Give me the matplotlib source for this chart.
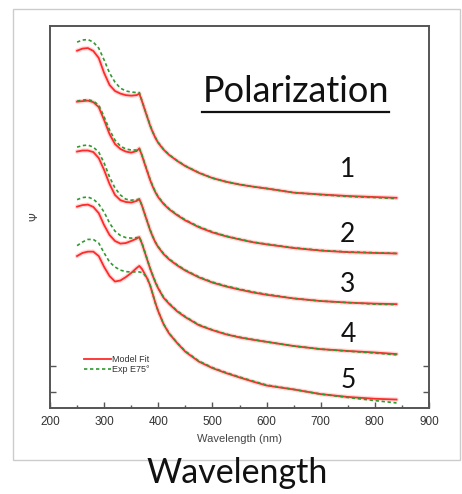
import matplotlib
matplotlib.use("Agg")
import matplotlib.pyplot as plt
from matplotlib.patches import Rectangle
from matplotlib.lines import Line2D

# wavelength grid (nm)
wl = [250, 260, 270, 280, 290, 300, 310, 320, 330, 340, 350, 360, 365,
      370, 375, 380, 385, 390, 395, 400, 410, 420, 435, 450, 475, 500,
      525, 550, 575, 600, 650, 700, 750, 800, 840]

# Psi, arbitrary units (offset per polarization curve)
fit1 = [131.3, 132.1, 132.3, 131.2, 128.5, 122.7, 118.1, 115.8, 114.8, 114.2, 114.0, 114.2, 114.8,
        111.8, 108.6, 105.5, 102.4, 99.8, 97.6, 95.8, 93.2, 91.2, 88.9, 86.9, 84.3, 82.3,
        80.9, 79.8, 79.0, 78.3, 76.7, 76.0, 75.4, 75.0, 74.7]
exp1 = [134.6, 135.4, 135.6, 134.6, 132.3, 127.7, 122.7, 119.2, 116.9, 115.8, 115.4, 115.2, 115.2,
        112.0, 108.8, 105.7, 102.6, 100.0, 97.8, 96.0, 93.3, 91.3, 89.0, 87.0, 84.4, 82.3,
        80.9, 79.9, 79.0, 78.3, 76.7, 75.9, 75.2, 74.8, 74.4]

fit2 = [111.7, 111.9, 112.1, 111.5, 109.6, 104.6, 99.2, 95.4, 93.5, 92.5, 92.1, 92.7, 93.7,
        90.9, 87.7, 84.6, 81.5, 78.9, 76.7, 74.9, 72.3, 70.3, 68.0, 66.0, 63.4, 61.4,
        59.9, 58.7, 57.6, 56.8, 55.4, 54.4, 53.8, 53.5, 53.3]
exp2 = [111.9, 112.3, 112.5, 111.9, 110.4, 105.8, 100.8, 96.9, 94.6, 93.5, 93.1, 93.1, 93.7,
        91.1, 87.9, 84.8, 81.7, 79.1, 76.9, 75.1, 72.5, 70.5, 68.2, 66.2, 63.6, 61.6,
        60.0, 58.8, 57.7, 56.9, 55.5, 54.5, 53.9, 53.6, 53.3]

fit3 = [92.5, 92.9, 92.9, 92.3, 90.0, 85.4, 80.0, 75.8, 73.8, 73.1, 72.9, 73.5, 74.2,
        71.6, 68.4, 65.3, 62.2, 59.6, 57.4, 55.7, 53.0, 51.0, 48.7, 46.7, 44.1, 42.1,
        40.6, 39.4, 38.3, 37.4, 36.0, 35.0, 34.4, 34.0, 33.8]
exp3 = [94.2, 94.8, 95.0, 94.2, 92.3, 88.1, 82.7, 78.5, 75.8, 74.2, 73.8, 74.0, 74.2,
        71.8, 68.6, 65.5, 62.4, 59.8, 57.6, 55.9, 53.2, 51.2, 48.9, 46.9, 44.3, 42.3,
        40.8, 39.6, 38.5, 37.6, 36.0, 35.0, 34.4, 33.8, 33.6]

fit4 = [71.3, 71.9, 72.1, 71.2, 68.8, 64.2, 60.4, 58.1, 57.1, 57.3, 58.1, 59.0, 59.6,
        57.0, 53.8, 50.6, 47.4, 44.6, 42.0, 39.8, 36.2, 33.9, 31.0, 28.8, 25.7, 23.8,
        22.2, 21.0, 20.1, 19.3, 17.7, 16.5, 15.8, 15.2, 14.6]
exp4 = [74.0, 74.8, 75.0, 74.2, 72.3, 69.2, 65.0, 61.9, 60.2, 59.4, 59.2, 59.4, 59.6,
        57.2, 54.0, 50.8, 47.6, 44.8, 42.2, 40.0, 36.4, 34.1, 31.2, 29.0, 25.9, 23.9,
        22.3, 21.1, 20.2, 19.3, 17.7, 16.5, 15.7, 15.0, 14.3]

fit5 = [52.3, 53.5, 54.0, 54.0, 52.3, 48.1, 44.6, 42.5, 42.9, 44.2, 45.8, 47.7, 48.5,
        47.3, 45.4, 43.5, 41.0, 37.5, 34.0, 31.0, 26.0, 22.5, 18.8, 15.5, 11.7, 9.2,
        7.3, 5.6, 4.0, 2.5, 1.0, -0.8, -1.9, -2.6, -2.9]
exp5 = [56.3, 57.7, 58.7, 58.7, 57.3, 53.5, 50.0, 48.1, 46.9, 46.3, 46.2, 46.2, 46.2,
        45.9, 45.0, 43.5, 41.0, 37.5, 34.0, 31.0, 26.1, 22.6, 18.9, 15.7, 11.9, 9.4,
        7.5, 5.8, 4.2, 2.7, 1.0, -0.8, -2.1, -3.3, -4.2]

fits = [fit1, fit2, fit3, fit4, fit5]
exps = [exp1, exp2, exp3, exp4, exp5]
labels = ["1", "2", "3", "4", "5"]

red = "#ff2a2a"
green = "#2f9a2f"

fig = plt.figure(figsize=(4.62, 4.94), dpi=100)
fig.patches.append(Rectangle((13 / 462, 1 - 460 / 494), 447 / 462, 451 / 494,
                             transform=fig.transFigure, fill=False,
                             edgecolor="#cccccc", lw=1))

ax = fig.add_axes([50 / 462, 1 - 408 / 494, 379 / 462, 382 / 494])

for f, e in zip(fits, exps):
    ax.plot(wl, f, color=red, lw=3.2, alpha=0.18, solid_capstyle="round")
    ax.plot(wl, f, color=red, lw=1.3)
    ax.plot(wl, e, color=green, lw=1.2, ls=(0, (2, 1.6)))

ax.set_xlim(200, 900)
ax.set_ylim(-6.15, 140.8)
ax.set_xticks(range(200, 901, 100))
ax.set_xticks(range(250, 900, 100), minor=True)
ax.set_yticks([0, 10])
ax.set_yticklabels([])
ax.tick_params(axis="x", which="major", direction="in", length=4, width=1,
               colors="#555555", labelcolor="#333333", labelsize=8.5, pad=6)
ax.tick_params(axis="x", which="minor", direction="in", length=2.5, width=1, colors="#555555")
ax.tick_params(axis="y", direction="in", length=4, width=1, colors="#555555",
               left=True, right=True)
for lab in ax.get_xticklabels():
    lab.set_family("Liberation Sans")
for s in ax.spines.values():
    s.set_color("#555555")
    s.set_linewidth(1.4)

ax.set_xlabel("Wavelength (nm)", fontsize=8, family="Liberation Sans", color="#444444", labelpad=4)
ax.set_ylabel("Ψ", fontsize=8, color="#444444", labelpad=4)

h1 = Line2D([], [], color=red, lw=1.3)
h2 = Line2D([], [], color=green, lw=1.2, ls=(0, (2, 1.6)))
ax.legend([h1, h2], ["Model Fit", "Exp E75°"], frameon=False, loc="upper left",
          bbox_to_anchor=(0.078, 0.15), handlelength=3.0,
          handletextpad=0.05, labelspacing=0.05, borderpad=0,
          prop={"family": "Liberation Sans", "size": 6.5}, labelcolor="#333333")

ax.text(0.648, 0.801, "Polarization", transform=ax.transAxes, ha="center",
        va="baseline", fontsize=26, family="Lato", color="#111111")
ax.plot([0.401, 0.894], [0.775, 0.775], transform=ax.transAxes, color="#111111",
        lw=1.6, clip_on=False)

num_y = [0.605, 0.4346, 0.3045, 0.1736, 0.0524]
for lab, yy in zip(labels, num_y):
    ax.text(0.786, yy, lab, transform=ax.transAxes, ha="center", va="baseline",
            fontsize=19, family="Lato", color="#111111")

fig.text(237 / 462, 1 - 483 / 494, "Wavelength", ha="center", va="baseline",
         fontsize=24.5, family="Lato", color="#111111")

fig.savefig("out.png", dpi=100)
